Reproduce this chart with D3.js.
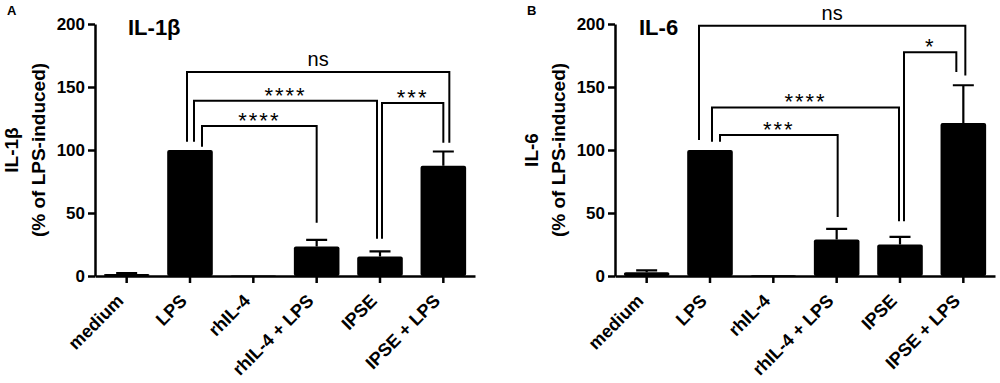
<!DOCTYPE html>
<html>
<head>
<meta charset="utf-8">
<script src="https://cdn.jsdelivr.net/npm/d3@7"></script>
<style>
  body { margin: 0; background: #fff; }
  svg { display: block; font-family: "Liberation Sans", Arial, sans-serif; }
</style>
</head>
<body>
<svg width="1000" height="383"></svg>
<script>
// groups on the x axis (same for both panels)
const categories = ["medium", "LPS", "rhIL-4", "rhIL-4 + LPS", "IPSE", "IPSE + LPS"]

// IL-1beta, % of LPS-induced (mean and SEM)
const il1bMean = [1.5, 100, 0.3, 23.5, 15.5, 87.5]
const il1bSem = [0.8, 0, 0, 5.2, 4.0, 11.3]

// IL-6, % of LPS-induced (mean and SEM)
const il6Mean = [3.0, 100, 0.5, 29, 25, 121.5]
const il6Sem = [1.5, 0, 0, 8.4, 6.1, 29.9]

const yTicks = [0, 50, 100, 150, 200]

// significance brackets: groups compared, bracket height, leg ends (in y units), label
const il1bBrackets = [
  { a: "LPS", b: "IPSE + LPS", top: 162, endA: 106.6, endB: 105.8, label: "ns" },
  { a: "LPS", b: "IPSE", top: 139, endA: 106.6, endB: 29.5, label: "****" },
  { a: "IPSE", b: "IPSE + LPS", top: 137.4, endA: 29.5, endB: 105.8, label: "***" },
  { a: "LPS", b: "rhIL-4 + LPS", top: 119, endA: 102.6, endB: 42.2, label: "****" }
]
const il6Brackets = [
  { a: "LPS", b: "IPSE + LPS", top: 198.7, endA: 108, endB: 159.2, label: "ns" },
  { a: "IPSE", b: "IPSE + LPS", top: 177.6, endA: 43.4, endB: 161.9, label: "*" },
  { a: "LPS", b: "IPSE", top: 133.8, endA: 106.6, endB: 43.4, label: "****" },
  { a: "LPS", b: "rhIL-4 + LPS", top: 111.9, endA: 106.6, endB: 46.9, label: "***" }
]

let svg = d3.select("svg")

let y = d3.scaleLinear().domain([0, 200]).range([276, 24])

let panels = [
  { letter: "A", left: 95, title: "IL-1β", titleDx: 33, mean: il1bMean, sem: il1bSem,
    brackets: il1bBrackets, legShift: [[-3, 6], [4, -3], [2, 0], [12, 0]] },
  { letter: "B", left: 615, title: "IL-6", titleDx: 24, mean: il6Mean, sem: il6Sem,
    brackets: il6Brackets, legShift: [[-11, 2], [4, -7], [2, -1], [10, 1]] }
]

function drawPanel(p) {
  let x = d3.scaleBand()
    .domain(categories)
    .range([p.left, p.left + 380])
    .paddingInner(0.28)
    .paddingOuter(0.14)
  let cx = c => x(c) + x.bandwidth() / 2

  let g = svg.append("g")

  // panel letter
  g.append("text")
    .attr("x", p.left - 88)
    .attr("y", 15)
    .style("font-size", "13px")
    .style("font-weight", "bold")
    .text(p.letter)

  // bars
  g.selectAll(".bar")
    .data(categories)
    .enter().append("rect")
    .attr("class", "bar")
    .attr("x", d => x(d))
    .attr("width", x.bandwidth())
    .attr("y", (d, i) => y(p.mean[i]))
    .attr("height", (d, i) => y(0) - y(p.mean[i]))
    .attr("rx", 2)
    .attr("fill", "#000")

  // error bars (upper only)
  let err = categories.map((c, i) => ({ c: c, m: p.mean[i], s: p.sem[i] })).filter(d => d.s > 0)
  g.selectAll(".err")
    .data(err)
    .enter().append("path")
    .attr("d", d => "M" + cx(d.c) + "," + y(d.m) + "V" + y(d.m + d.s) +
      "M" + (cx(d.c) - 10.5) + "," + y(d.m + d.s) + "H" + (cx(d.c) + 10.5))
    .attr("stroke", "#000")
    .attr("stroke-width", 2.2)
    .attr("fill", "none")

  // y axis
  let yAxis = g.append("g")
    .attr("transform", "translate(" + p.left + ",0)")
    .call(d3.axisLeft(y).tickValues(yTicks).tickSize(7).tickSizeOuter(0).tickPadding(3))
  yAxis.selectAll("path, line").attr("stroke", "#000").attr("stroke-width", 2.5)
  yAxis.selectAll("text")
    .attr("fill", "#000")
    .style("font-size", "17px")
    .style("font-weight", "bold")
    .style("font-family", "Liberation Sans, Arial, sans-serif")

  // x axis
  let xAxis = g.append("g")
    .attr("transform", "translate(0," + y(0) + ")")
    .call(d3.axisBottom(x).tickSize(7).tickSizeOuter(0))
  xAxis.selectAll("path, line").attr("stroke", "#000").attr("stroke-width", 2.5)
  xAxis.selectAll("text")
    .attr("fill", "#000")
    .attr("x", 0)
    .attr("y", 0)
    .attr("dy", 0)
    .attr("transform", "translate(-2,26) rotate(-45)")
    .attr("text-anchor", "end")
    .style("font-size", "18px")
    .style("font-weight", "bold")
    .style("font-family", "Liberation Sans, Arial, sans-serif")

  // y axis title
  let yl = g.append("g").style("font-size", "19px").style("font-weight", "bold")
  yl.append("text")
    .attr("transform", "translate(" + (p.left - 77) + "," + y(100) + ") rotate(-90)")
    .attr("text-anchor", "middle")
    .text(p.title)
  yl.append("text")
    .attr("transform", "translate(" + (p.left - 50) + "," + y(100) + ") rotate(-90)")
    .attr("text-anchor", "middle")
    .text("(% of LPS-induced)")

  // panel title
  g.append("text")
    .attr("x", p.left + p.titleDx)
    .attr("y", 35)
    .style("font-size", "22px")
    .style("font-weight", "bold")
    .text(p.title)

  // significance brackets
  p.brackets.forEach((b, i) => {
    let xa = cx(b.a) + p.legShift[i][0]
    let xb = cx(b.b) + p.legShift[i][1]
    g.append("path")
      .attr("d", "M" + xa + "," + y(b.endA) + "V" + y(b.top) + "H" + xb + "V" + y(b.endB))
      .attr("stroke", "#000")
      .attr("stroke-width", 2)
      .attr("fill", "none")
    let isNs = b.label === "ns"
    g.append("text")
      .attr("x", (xa + xb) / 2)
      .attr("y", isNs ? y(b.top) - 6 : y(b.top) + 2)
      .attr("text-anchor", "middle")
      .style("font-size", isNs ? "20px" : "22px")
      .style("letter-spacing", isNs ? "0px" : "2px")
      .text(b.label)
  })
}

panels.forEach(drawPanel)
</script>
</body>
</html>
